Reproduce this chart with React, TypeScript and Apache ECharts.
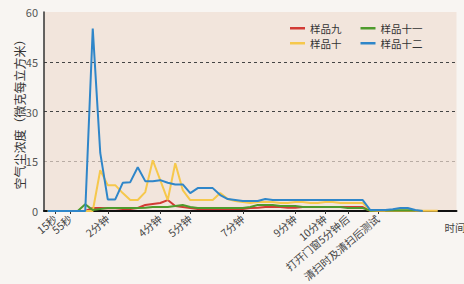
import React, { useEffect, useRef } from "react";
import * as echarts from "echarts";

const timeLabels: string[] = [
  "", "15秒", "", "55秒", "", "", "", "", "2分钟", "", "",
  "", "", "", "", "4分钟", "", "", "", "5分钟", "", "",
  "", "", "", "", "7分钟", "", "", "", "", "", "", "9分钟",
  "", "", "", "10分钟", "", "", "打开门窗5分钟后", "", "", "", "清扫时及清扫后测试",
  "", "", "", "", "", "", "", "", "", "",
];

const yTicks = [0, 15, 30, 45, 60];

const sample9: number[] = [
  0, 0, 0, 0, 0, 0, 0.9, 0.9, 0.8, 0.8, 0.6, 0.6, 0.9, 1.8, 2.1, 2.4, 3.3, 1.5, 1.2, 0.9,
  0.6, 0.6, 0.6, 0.6, 0.6, 0.6, 0.6, 0.9, 1.0, 1.2, 1.2, 1.2, 1.0, 1.0, 1.2, 1.2, 1.2, 1.2,
  1.2, 1.2, 1.2, 1.2, 1.2, 0, 0, 0,
];
const sample10: number[] = [
  0, 0, 0, 0, 0, 0, 0, 12.3, 7.8, 7.8, 5.4, 3.3, 3.3, 5.7, 15.3, 9.3, 3.3, 14.4, 6.3, 3.3,
  3.3, 3.3, 3.3, 5.4, 3.6, 3.0, 2.7, 2.4, 2.7, 2.7, 2.7, 2.4, 2.4, 2.7, 2.7, 2.4, 2.4, 2.7,
  2.7, 2.4, 2.4, 2.4, 2.4, 0.1, 0.1, 0.1, 0.1, 0.1, 0.1, 0.1, 0.1, 0.1, 0.1,
];
const sample11: number[] = [
  0, 0, 0, 0, 0, 2, 0.3, 0.6, 0.9, 0.9, 0.9, 0.9, 0.9, 1.0, 1.2, 1.2, 1.2, 1.5, 1.8, 1.2,
  0.9, 0.9, 0.9, 0.9, 0.9, 0.9, 0.9, 1.2, 1.8, 1.8, 1.8, 1.5, 1.5, 1.5, 1.2, 1.2, 1.2, 1.2,
  1.2, 1.2, 0.9, 0.9, 0.9, 0.1, 0.2, 0.2, 0.2, 0.2, 0.2, 0.2,
];
const sample12: number[] = [
  0, 0, 0, 0, 0, 0, 55, 17.5, 3.5, 3.5, 8.5, 8.7, 13.2, 9, 9, 9.3, 8.5, 8, 8, 5.4,
  6.9, 6.9, 6.9, 4.8, 3.6, 3.3, 3, 3, 3, 3.6, 3.3, 3.3, 3.3, 3.3, 3.3, 3.3, 3.3, 3.3,
  3.3, 3.3, 3.3, 3.3, 3.3, 0.3, 0.3, 0.3, 0.5, 0.9, 0.9, 0.3, 0,
];

const seriesNames = ["样品九", "样品十", "样品十一", "样品十二"];
const seriesColors = ["#d23b35", "#f6c84c", "#4f9b2c", "#2f86c9"];
const seriesData = [sample9, sample10, sample11, sample12];

const FONT = "'Noto Sans CJK SC', 'Noto Sans', sans-serif";

export default function App() {
  const ref = useRef<HTMLDivElement>(null);
  useEffect(() => {
    if (!ref.current) return;
    const chart = echarts.init(ref.current, null, { renderer: "svg" });
    const legendCommon = {
      orient: "horizontal" as const,
      icon: "rect",
      itemWidth: 15,
      itemHeight: 2.5,
      itemGap: 19,
      textStyle: { fontFamily: FONT, fontSize: 10.5, color: "#333333" },
    };
    chart.setOption({
      animation: false,
      backgroundColor: "#f8f5f2",
      textStyle: { fontFamily: FONT, color: "#444444" },
      grid: {
        left: 44,
        top: 12,
        width: 412.5,
        height: 199,
        show: true,
        backgroundColor: "#f2e5dc",
        borderWidth: 0,
        containLabel: false,
        outerBoundsMode: "none",
      },
      legend: [
        { ...legendCommon, left: 285, top: 18, data: ["样品九", "样品十一"] },
        { ...legendCommon, left: 285, top: 33, data: ["样品十", "样品十二"] },
      ],
      xAxis: {
        type: "category",
        boundaryGap: true,
        data: timeLabels,
        name: "时间",
        nameLocation: "end",
        nameGap: -12,
        nameMoveOverlap: false,
        nameTextStyle: {
          fontFamily: FONT,
          fontSize: 10.5,
          color: "#444444",
          verticalAlign: "top",
          padding: [11, 0, 0, 0],
        },
        axisLine: { lineStyle: { color: "#111111", width: 2 } },
        axisTick: {
          show: true,
          alignWithLabel: true,
          interval: (i: number, v: string) => v !== "",
          length: 3,
          lineStyle: { color: "#333333" },
        },
        axisLabel: {
          interval: 0,
          rotate: 40,
          margin: 6,
          fontFamily: FONT,
          fontSize: 10.5,
          color: "#444444",
        },
        splitLine: { show: false },
      },
      yAxis: {
        type: "value",
        min: yTicks[0],
        max: yTicks[yTicks.length - 1],
        interval: 15,
        name: "空气尘浓度（微克每立方米）",
        nameLocation: "middle",
        nameGap: 19,
        nameMoveOverlap: false,
        nameTextStyle: { fontFamily: FONT, fontSize: 12, color: "#333333" },
        axisLine: { show: true, lineStyle: { color: "#333333", width: 1.5 } },
        axisTick: { show: false },
        axisLabel: { margin: 6, fontFamily: FONT, fontSize: 11, color: "#555555" },
        splitLine: {
          show: true,
          lineStyle: {
            type: [3, 3],
            width: 1,
            color: ["rgba(0,0,0,0)", "#b8aca4", "#444444", "#444444", "rgba(0,0,0,0)"],
          },
        },
      },
      series: seriesNames.map((name, i) => ({
        name,
        type: "line",
        data: seriesData[i],
        symbol: "none",
        color: seriesColors[i],
        lineStyle: { width: 2, color: seriesColors[i] },
        z: 3 + i,
      })),
    });
    return () => chart.dispose();
  }, []);
  return (
    <div
      ref={ref}
      style={{ position: "fixed", left: 0, top: 0, width: 464, height: 284 }}
    />
  );
}
